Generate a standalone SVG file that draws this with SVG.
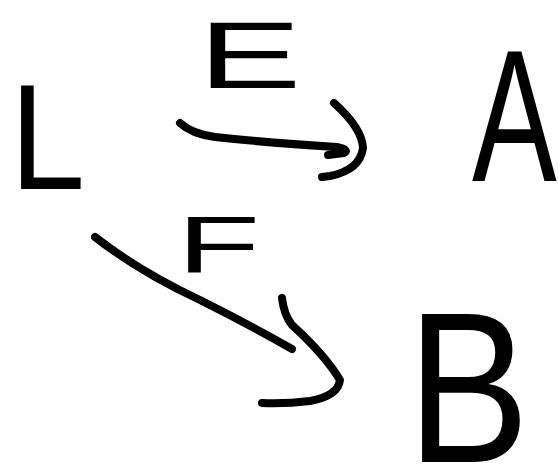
<svg xmlns="http://www.w3.org/2000/svg" width="558" height="469" viewBox="0 0 558 469">
<style>
.lbl{font-family:"Liberation Sans","DejaVu Sans",sans-serif;fill:#000;}
.ink{fill:none;stroke:#000;stroke-width:8;stroke-linecap:round;stroke-linejoin:round;}
</style>
<rect width="558" height="469" fill="#fff"/>
<g id="connectors">
<g id="edge-E">
<path class="ink" d="M180,123 Q192,134 215,137 Q270,143 337,147 Q350,150 344,153 L328,155"/>
<path class="ink" d="M334,103 Q362,128 363,148 Q360,170 330,176 L322,177"/>
<text class="lbl" font-size="94" transform="translate(198,88) scale(1.65,1)">E</text>
</g>
<g id="edge-F">
<path class="ink" d="M95,237 Q140,272 200,300 Q250,325 292,349"/>
<path class="ink" d="M282,298 Q284,315 292,325 Q325,355 340,380 Q338,396 310,401 Q285,404 262,403"/>
<text class="lbl" font-size="80" transform="translate(177,272) scale(1.7,1)">F</text>
</g>
</g>
<g id="node-L"><text class="lbl" font-size="150" transform="translate(10,189) scale(0.9,1)">L</text></g>
<g id="node-A"><text class="lbl" font-size="187" transform="translate(472,181) scale(0.68,1)">A</text></g>
<g id="node-B"><text class="lbl" font-size="216" transform="translate(407,462) scale(0.85,1)">B</text></g>
</svg>
